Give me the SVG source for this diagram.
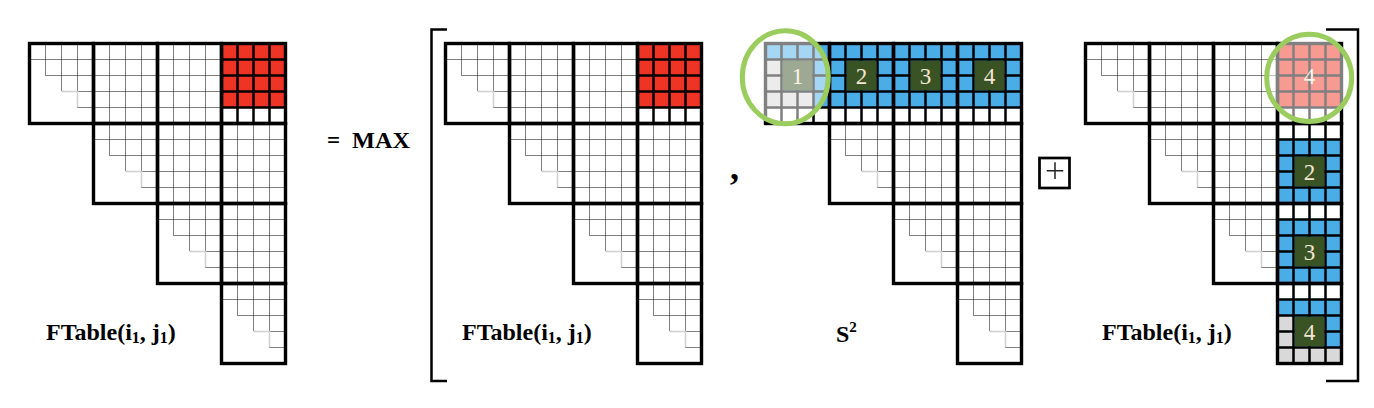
<svg xmlns="http://www.w3.org/2000/svg" xmlns:xlink="http://www.w3.org/1999/xlink" width="1374" height="408" viewBox="0 0 1374 408">
<style>
.dot{stroke:#000;stroke-width:1;stroke-dasharray:1 1;fill:none}
.gl{stroke:#cfcfcf;stroke-width:1.5;fill:none}
.thk{fill:none;stroke:#000;stroke-width:3.4}
.sg{stroke:#000;stroke-width:2.5;fill:none}
.lbl{font-family:"Liberation Serif","Times New Roman",serif;font-weight:bold;fill:#000}
.num{font-family:"Liberation Serif","Times New Roman",serif;font-size:23px;fill:#f3e7d3;text-anchor:middle}
.red{fill:#ee3424}
.blu{fill:#4aade8}
.gry{fill:#d9d9d9}
.drk{fill:#3a5324}
.wht{fill:#fff}
.ring{fill:#fff;fill-opacity:0.5;stroke:#9bcd5e;stroke-width:5}
.brk{fill:none;stroke:#000;stroke-width:2.5}
</style>
<defs>
<path id="pF" class="dot" d="M16,0V80M32,0V80M48,0V80M0,16H64M0,32H64M0,48H64M0,64H64"/>
<g id="pD">
<path class="dot" d="M16,0V32M32,0V48M48,0V48M0,16H64M16,32H64M48,48H64M48,64H64"/>
<path class="gl" d="M32,48H48V64"/>
</g>
<path id="sg" class="sg" d="M16,0V80M32,0V80M48,0V80M0,16H64M0,32H64M0,48H64M0,64H64"/>
<g id="triG">
<use xlink:href="#pD"/>
<use xlink:href="#pF" x="64"/>
<use xlink:href="#pF" x="128"/>
<use xlink:href="#pF" x="192"/>
<use xlink:href="#pD" x="64" y="80"/>
<use xlink:href="#pF" x="128" y="80"/>
<use xlink:href="#pF" x="192" y="80"/>
<use xlink:href="#pD" x="128" y="160"/>
<use xlink:href="#pF" x="192" y="160"/>
<use xlink:href="#pD" x="192" y="240"/>
</g>
<g id="triB">
<rect class="thk" x="0" y="0" width="64" height="80"/>
<rect class="thk" x="64" y="0" width="64" height="80"/>
<rect class="thk" x="128" y="0" width="64" height="80"/>
<rect class="thk" x="192" y="0" width="64" height="80"/>
<rect class="thk" x="64" y="80" width="64" height="80"/>
<rect class="thk" x="128" y="80" width="64" height="80"/>
<rect class="thk" x="192" y="80" width="64" height="80"/>
<rect class="thk" x="128" y="160" width="64" height="80"/>
<rect class="thk" x="192" y="160" width="64" height="80"/>
<rect class="thk" x="192" y="240" width="64" height="80"/>
</g>
<g id="bRed">
<rect class="wht" width="64" height="80"/>
<rect class="red" width="64" height="64"/>
<use xlink:href="#sg"/>
</g>
<g id="bS">
<rect class="wht" width="64" height="80"/>
<rect class="blu" width="64" height="64"/>
<use xlink:href="#sg"/>
<rect class="drk" x="17.25" y="17.25" width="29.5" height="29.5"/>
</g>
<g id="bS0">
<rect class="wht" width="64" height="80"/>
<rect class="blu" width="64" height="64"/>
<rect class="gry" x="0" y="16" width="16" height="32"/>
<rect class="gry" x="0" y="48" width="48" height="16"/>
<use xlink:href="#sg"/>
<rect class="drk" x="17.25" y="17.25" width="29.5" height="29.5"/>
</g>
<g id="bC">
<rect class="wht" width="64" height="80"/>
<rect class="blu" y="16" width="64" height="64"/>
<use xlink:href="#sg"/>
<rect class="drk" x="17.25" y="33.25" width="29.5" height="29.5"/>
</g>
<g id="bC3">
<rect class="wht" width="64" height="80"/>
<rect class="blu" y="16" width="64" height="48"/>
<rect class="gry" x="0" y="32" width="16" height="32"/>
<rect class="gry" x="0" y="64" width="64" height="16"/>
<use xlink:href="#sg"/>
<rect class="drk" x="17.25" y="33.25" width="29.5" height="29.5"/>
</g>
</defs>

<g id="matrix1" transform="translate(29.5,43.5)">
<use xlink:href="#triG"/>
<use xlink:href="#bRed" x="192" y="0"/>
<use xlink:href="#triB"/>
</g>
<g id="label1"><text class="lbl" x="46" y="340" font-size="24">FTable(i<tspan font-size="16" dy="3">1</tspan><tspan dy="-3">, j</tspan><tspan font-size="16" dy="3">1</tspan><tspan dy="-3">)</tspan></text></g>

<g id="eqmax"><text class="lbl" y="148" font-size="23"><tspan x="327">=</tspan><tspan x="352" textLength="58" lengthAdjust="spacingAndGlyphs">MAX</tspan></text></g>

<g id="bracket-left"><path class="brk" d="M447,29.5H431.5V381H447"/></g>

<g id="matrix2" transform="translate(445.5,43.5)">
<use xlink:href="#triG"/>
<use xlink:href="#bRed" x="192" y="0"/>
<use xlink:href="#triB"/>
</g>
<g id="label2"><text class="lbl" x="462" y="340" font-size="24">FTable(i<tspan font-size="16" dy="3">1</tspan><tspan dy="-3">, j</tspan><tspan font-size="16" dy="3">1</tspan><tspan dy="-3">)</tspan></text></g>

<g id="comma"><text class="lbl" x="730" y="179" font-size="36">,</text></g>

<g id="matrix3" transform="translate(765.5,43.5)">
<use xlink:href="#triG"/>
<use xlink:href="#bS0" x="0" y="0"/>
<use xlink:href="#bS" x="64" y="0"/>
<use xlink:href="#bS" x="128" y="0"/>
<use xlink:href="#bS" x="192" y="0"/>
<use xlink:href="#triB"/>
</g>
<g id="matrix3-nums">
<text class="num" x="797.5" y="83.5">1</text>
<text class="num" x="861.5" y="83.5">2</text>
<text class="num" x="925.5" y="83.5">3</text>
<text class="num" x="989.5" y="83.5">4</text>
</g>
<g id="label3"><text class="lbl" x="836" y="342" font-size="24">S<tspan font-size="15" dy="-10.5">2</tspan></text></g>

<g id="plus-box">
<rect x="1039.5" y="158" width="30" height="30" fill="none" stroke="#000" stroke-width="2.7"/>
<path d="M1046.7,170.7H1063.3M1055,162.3V179" stroke="#222" stroke-width="1.5" fill="none"/>
</g>

<g id="matrix4" transform="translate(1085.5,43.5)">
<use xlink:href="#triG"/>
<use xlink:href="#bRed" x="192" y="0"/>
<use xlink:href="#bC" x="192" y="80"/>
<use xlink:href="#bC" x="192" y="160"/>
<use xlink:href="#bC3" x="192" y="240"/>
<use xlink:href="#triB"/>
</g>
<g id="matrix4-nums">
<text class="num" x="1309.5" y="83.5">4</text>
<text class="num" x="1309.5" y="179.5">2</text>
<text class="num" x="1309.5" y="259.5">3</text>
<text class="num" x="1309.5" y="339.5">4</text>
</g>
<g id="label4"><text class="lbl" x="1102" y="340" font-size="24">FTable(i<tspan font-size="16" dy="3">1</tspan><tspan dy="-3">, j</tspan><tspan font-size="16" dy="3">1</tspan><tspan dy="-3">)</tspan></text></g>

<g id="bracket-right"><path class="brk" d="M1326,29.5H1358V381H1326"/></g>

<g id="highlight-rings">
<ellipse class="ring" cx="785.3" cy="77.2" rx="43" ry="46.5"/>
<ellipse class="ring" cx="1309.2" cy="77.9" rx="42.5" ry="43.7"/>
</g>
</svg>
